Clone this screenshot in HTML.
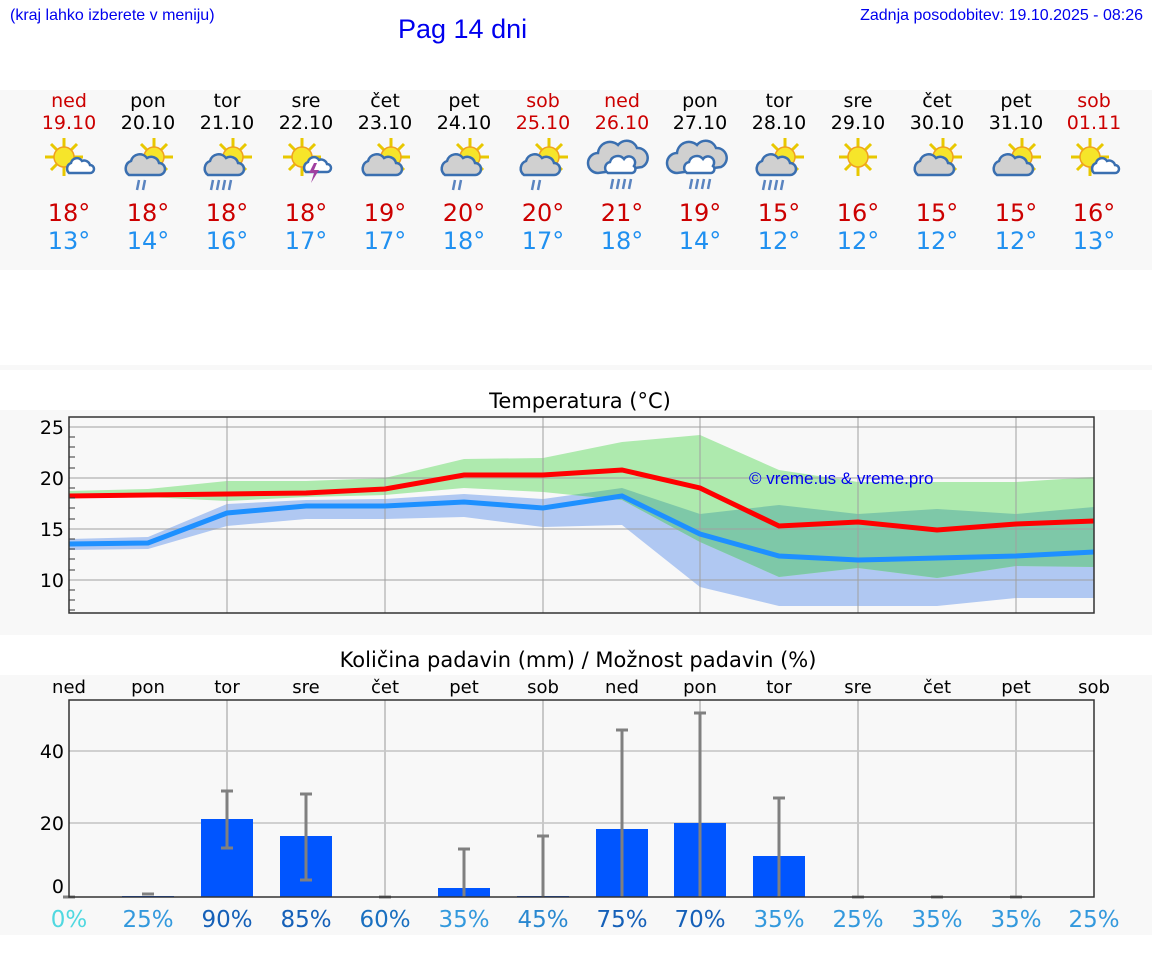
<!DOCTYPE html>
<html><head><meta charset="utf-8"><style>
body{margin:0;width:1152px;height:975px;background:#fff;font-family:"DejaVu Sans","Liberation Sans",sans-serif;position:relative;overflow:hidden}
.a{position:absolute}
</style></head><body>
<div class="a" style="left:10px;top:7px;font-size:16px;color:#0000ee;font-family:'Liberation Sans',sans-serif">(kraj lahko izberete v meniju)</div>
<div class="a" style="left:398px;top:14px;font-size:27px;color:#0000ee;font-family:'Liberation Sans',sans-serif">Pag 14 dni</div>
<div class="a" style="right:9px;top:7px;font-size:16px;color:#0000ee;font-family:'Liberation Sans',sans-serif">Zadnja posodobitev: 19.10.2025 - 08:26</div>
<div class="a" style="left:0;top:90px;width:1152px;height:180px;background:#f8f8f8"></div>
<div class="a" style="left:0;top:365px;width:1152px;height:5px;background:#f8f8f8"></div>
<div class="a" style="left:0;top:410px;width:1152px;height:225px;background:#f8f8f8"></div>
<div class="a" style="left:0;top:675px;width:1152px;height:260px;background:#f8f8f8"></div>
<svg class="a" style="left:0;top:0" width="1152" height="975" font-family="DejaVu Sans, Liberation Sans, sans-serif">
<defs>
<g id="sun"><g stroke="#e8c800" stroke-width="3"><line x1="0" y1="-19" x2="0" y2="19"/><line x1="-19" y1="0" x2="19" y2="0"/><line x1="-13" y1="-13" x2="13" y2="13"/><line x1="-13" y1="13" x2="13" y2="-13"/></g><circle r="10" fill="#f6e52a" stroke="#f0a020" stroke-width="1.5"/></g>
<g id="cl"><path d="M-16,8 a8,8 0 0 1 2,-14 a9,9 0 0 1 16,-3 a8,8 0 0 1 12,5 a6,6 0 0 1 0,12 z" fill="#d0d0d0" stroke="#3a6fb0" stroke-width="2.5"/></g>
<g id="cw"><path d="M-10,6 a6,6 0 0 1 2,-10 a6,6 0 0 1 11,-2 a6,6 0 0 1 8,4 a4,4 0 0 1 0,8 z" fill="#fff" stroke="#3a6fb0" stroke-width="2.5"/></g>
<g id="big"><path d="M-22,14 a10,10 0 0 1 0,-20 a12,12 0 0 1 20,-8 a11,11 0 0 1 19,3 a10,10 0 0 1 5,19 z" fill="#d0d0d0" stroke="#3a6fb0" stroke-width="2.5"/><path d="M-12,14 a6,6 0 0 1 2,-11 a8,8 0 0 1 14,-3 a6,6 0 0 1 10,7 a4,4 0 0 1 -2,7 z" fill="#fff" stroke="#3a6fb0" stroke-width="2.5"/></g>
<g id="r2" stroke="#5a84c0" stroke-width="2.5"><line x1="-3" y1="0" x2="-5" y2="10"/><line x1="3" y1="0" x2="1" y2="10"/></g>
<g id="r4" stroke="#5a84c0" stroke-width="2.5"><line x1="-9" y1="0" x2="-11" y2="10"/><line x1="-3" y1="0" x2="-5" y2="10"/><line x1="3" y1="0" x2="1" y2="10"/><line x1="9" y1="0" x2="7" y2="10"/></g>
<clipPath id="bc"><polygon points="69,539 148,537 227,504 306,500 385,499 464,494 543,499 622,488 700,514 779,505 858,514 937,509 1016,514 1094,507 1094,598 1016,598 937,606 858,606 779,606 700,587 622,525 543,527 464,517 385,519 306,519 227,526 148,549 69,550"/></clipPath>
</defs>
<g font-size="19" text-anchor="middle">
<g fill="#000"><text x="69" y="107" fill="#cc0000">ned</text><text x="148" y="107">pon</text><text x="227" y="107">tor</text><text x="306" y="107">sre</text><text x="385" y="107">čet</text><text x="464" y="107">pet</text><text x="543" y="107" fill="#cc0000">sob</text><text x="622" y="107" fill="#cc0000">ned</text><text x="700" y="107">pon</text><text x="779" y="107">tor</text><text x="858" y="107">sre</text><text x="937" y="107">čet</text><text x="1016" y="107">pet</text><text x="1094" y="107" fill="#cc0000">sob</text></g>
<g fill="#000"><text x="69" y="129" fill="#cc0000">19.10</text><text x="148" y="129">20.10</text><text x="227" y="129">21.10</text><text x="306" y="129">22.10</text><text x="385" y="129">23.10</text><text x="464" y="129">24.10</text><text x="543" y="129" fill="#cc0000">25.10</text><text x="622" y="129" fill="#cc0000">26.10</text><text x="700" y="129">27.10</text><text x="779" y="129">28.10</text><text x="858" y="129">29.10</text><text x="937" y="129">30.10</text><text x="1016" y="129">31.10</text><text x="1094" y="129" fill="#cc0000">01.11</text></g>
</g>
<g>
<use href="#sun" x="64" y="157"/><use href="#cw" x="79" y="167"/>
<use href="#sun" x="154" y="157"/><use href="#cl" x="145" y="167"/><use href="#r2" x="142" y="180"/>
<use href="#sun" x="233" y="157"/><use href="#cl" x="224" y="167"/><use href="#r4" x="222" y="180"/>
<use href="#sun" x="302" y="157"/><use href="#cw" x="316" y="166"/><path d="M314,163 l-5,10 h5 l-3,10 l8,-13 h-5 l3,-7z" fill="#a040a0"/>
<use href="#sun" x="391" y="157"/><use href="#cl" x="382" y="167"/>
<use href="#sun" x="470" y="157"/><use href="#cl" x="461" y="167"/><use href="#r2" x="458" y="180"/>
<use href="#sun" x="549" y="157"/><use href="#cl" x="540" y="167"/><use href="#r2" x="537" y="180"/>
<use href="#big" x="620" y="159"/><use href="#r4" x="622" y="179"/>
<use href="#big" x="699" y="159"/><use href="#r4" x="701" y="179"/>
<use href="#sun" x="785" y="157"/><use href="#cl" x="776" y="167"/><use href="#r4" x="774" y="180"/>
<use href="#sun" x="858" y="157"/>
<use href="#sun" x="943" y="157"/><use href="#cl" x="934" y="167"/>
<use href="#sun" x="1022" y="157"/><use href="#cl" x="1013" y="167"/>
<use href="#sun" x="1090" y="157"/><use href="#cw" x="1104" y="167"/>
</g>
<g font-size="24" text-anchor="middle" fill="#cc0000">
<text x="69" y="221">18°</text><text x="148" y="221">18°</text><text x="227" y="221">18°</text><text x="306" y="221">18°</text><text x="385" y="221">19°</text><text x="464" y="221">20°</text><text x="543" y="221">20°</text><text x="622" y="221">21°</text><text x="700" y="221">19°</text><text x="779" y="221">15°</text><text x="858" y="221">16°</text><text x="937" y="221">15°</text><text x="1016" y="221">15°</text><text x="1094" y="221">16°</text>
</g>
<g font-size="24" text-anchor="middle" fill="#2090f0">
<text x="69" y="249">13°</text><text x="148" y="249">14°</text><text x="227" y="249">16°</text><text x="306" y="249">17°</text><text x="385" y="249">17°</text><text x="464" y="249">18°</text><text x="543" y="249">17°</text><text x="622" y="249">18°</text><text x="700" y="249">14°</text><text x="779" y="249">12°</text><text x="858" y="249">12°</text><text x="937" y="249">12°</text><text x="1016" y="249">12°</text><text x="1094" y="249">13°</text>
</g>
<text x="580" y="408" font-size="21" text-anchor="middle">Temperatura (°C)</text>
<rect x="69" y="417" width="1025" height="196" fill="#f8f8f8"/>
<polygon fill="#b0c8f2" points="69,539 148,537 227,504 306,500 385,499 464,494 543,499 622,488 700,514 779,505 858,514 937,509 1016,514 1094,507 1094,598 1016,598 937,606 858,606 779,606 700,587 622,525 543,527 464,517 385,519 306,519 227,526 148,549 69,550"/>
<polygon fill="#aeeaae" points="69,491 148,489 227,481 306,481 385,478 464,459 543,458 622,442 700,435 779,470 858,482 937,482 1016,482 1094,477 1094,567 1016,566 937,578 858,568 779,577 700,542 622,500 543,492 464,488 385,495 306,497 227,501 148,497 69,497"/>
<polygon fill="#7ec8a8" clip-path="url(#bc)" points="69,491 148,489 227,481 306,481 385,478 464,459 543,458 622,442 700,435 779,470 858,482 937,482 1016,482 1094,477 1094,567 1016,566 937,578 858,568 779,577 700,542 622,500 543,492 464,488 385,495 306,497 227,501 148,497 69,497"/>
<g stroke="#a0a0a0" stroke-opacity="0.5" stroke-width="2"><line x1="69" x2="1094" y1="427" y2="427"/><line x1="69" x2="1094" y1="478" y2="478"/><line x1="69" x2="1094" y1="529" y2="529"/><line x1="69" x2="1094" y1="580" y2="580"/><line x1="227" x2="227" y1="417" y2="613"/><line x1="385" x2="385" y1="417" y2="613"/><line x1="543" x2="543" y1="417" y2="613"/><line x1="700" x2="700" y1="417" y2="613"/><line x1="858" x2="858" y1="417" y2="613"/><line x1="1016" x2="1016" y1="417" y2="613"/></g>
<polyline fill="none" stroke="#ff0000" stroke-width="5" points="69,496 148,495 227,494 306,493 385,489 464,475 543,475 622,470 700,488 779,526 858,522 937,530 1016,524 1094,521"/>
<polyline fill="none" stroke="#1e90ff" stroke-width="5" points="69,544 148,543 227,513 306,506 385,506 464,502 543,508 622,496 700,534 779,556 858,560 937,558 1016,556 1094,552"/>
<text x="749" y="484" font-size="17" fill="#0000ee" font-family="Liberation Sans,sans-serif">© vreme.us &amp; vreme.pro</text>
<rect x="69" y="417" width="1025" height="196" fill="none" stroke="#333" stroke-width="1.5"/>
<g stroke="#333" stroke-width="1"><line x1="69" x2="75" y1="437" y2="437"/><line x1="69" x2="75" y1="447" y2="447"/><line x1="69" x2="75" y1="457" y2="457"/><line x1="69" x2="75" y1="468" y2="468"/><line x1="69" x2="75" y1="488" y2="488"/><line x1="69" x2="75" y1="498" y2="498"/><line x1="69" x2="75" y1="508" y2="508"/><line x1="69" x2="75" y1="519" y2="519"/><line x1="69" x2="75" y1="539" y2="539"/><line x1="69" x2="75" y1="549" y2="549"/><line x1="69" x2="75" y1="559" y2="559"/><line x1="69" x2="75" y1="570" y2="570"/><line x1="69" x2="75" y1="590" y2="590"/><line x1="69" x2="75" y1="600" y2="600"/><line x1="69" x2="75" y1="610" y2="610"/></g>
<g font-size="19" text-anchor="end"><text x="64" y="434">25</text><text x="64" y="485">20</text><text x="64" y="536">15</text><text x="64" y="587">10</text></g>
<text x="578" y="667" font-size="21" text-anchor="middle">Količina padavin (mm) / Možnost padavin (%)</text>
<g font-size="18" text-anchor="middle"><text x="69" y="693">ned</text><text x="148" y="693">pon</text><text x="227" y="693">tor</text><text x="306" y="693">sre</text><text x="385" y="693">čet</text><text x="464" y="693">pet</text><text x="543" y="693">sob</text><text x="622" y="693">ned</text><text x="700" y="693">pon</text><text x="779" y="693">tor</text><text x="858" y="693">sre</text><text x="937" y="693">čet</text><text x="1016" y="693">pet</text><text x="1094" y="693">sob</text></g>
<rect x="69" y="700" width="1025" height="197" fill="#f8f8f8"/>
<g stroke="#d0d0d0" stroke-width="2"><line x1="69" x2="1094" y1="751" y2="751"/><line x1="69" x2="1094" y1="823" y2="823"/></g>
<g stroke="#c8c8c8" stroke-width="2"><line x1="227" x2="227" y1="700" y2="897"/><line x1="385" x2="385" y1="700" y2="897"/><line x1="543" x2="543" y1="700" y2="897"/><line x1="700" x2="700" y1="700" y2="897"/><line x1="858" x2="858" y1="700" y2="897"/><line x1="1016" x2="1016" y1="700" y2="897"/></g>
<g fill="#0055ff"><rect x="122" y="896" width="52" height="1"/><rect x="201" y="819" width="52" height="78"/><rect x="280" y="836" width="52" height="61"/><rect x="438" y="888" width="52" height="9"/><rect x="517" y="896" width="52" height="1"/><rect x="596" y="829" width="52" height="68"/><rect x="674" y="823" width="52" height="74"/><rect x="753" y="856" width="52" height="41"/></g>
<g stroke="#808080" stroke-width="3"><path d="M142,894H154"/><path d="M227,848V791M221,848H233M221,791H233"/><path d="M306,880V794M300,880H312M300,794H312"/><path d="M464,897V849M458,849H470"/><path d="M543,897V836M537,836H549"/><path d="M622,897V730M616,730H628"/><path d="M700,897V713M694,713H706"/><path d="M779,897V798M773,798H785"/><path d="M63,897H75M379,897H391M852,897H864M931,897H943M1010,897H1022"/></g>
<rect x="69" y="700" width="1025" height="197" fill="none" stroke="#333" stroke-width="1.5"/>
<g font-size="19" text-anchor="end"><text x="64" y="758">40</text><text x="64" y="830">20</text><text x="64" y="893">0</text></g>
<g font-size="23" text-anchor="middle"><text x="69" y="927" fill="#50d8e0">0%</text><text x="148" y="927" fill="#3399dd">25%</text><text x="227" y="927" fill="#1560b8">90%</text><text x="306" y="927" fill="#1560b8">85%</text><text x="385" y="927" fill="#1a70c0">60%</text><text x="464" y="927" fill="#3399dd">35%</text><text x="543" y="927" fill="#2a88d0">45%</text><text x="622" y="927" fill="#1560b8">75%</text><text x="700" y="927" fill="#1560b8">70%</text><text x="779" y="927" fill="#3399dd">35%</text><text x="858" y="927" fill="#3399dd">25%</text><text x="937" y="927" fill="#3399dd">35%</text><text x="1016" y="927" fill="#3399dd">35%</text><text x="1094" y="927" fill="#3399dd">25%</text></g>
</svg>
</body></html>
